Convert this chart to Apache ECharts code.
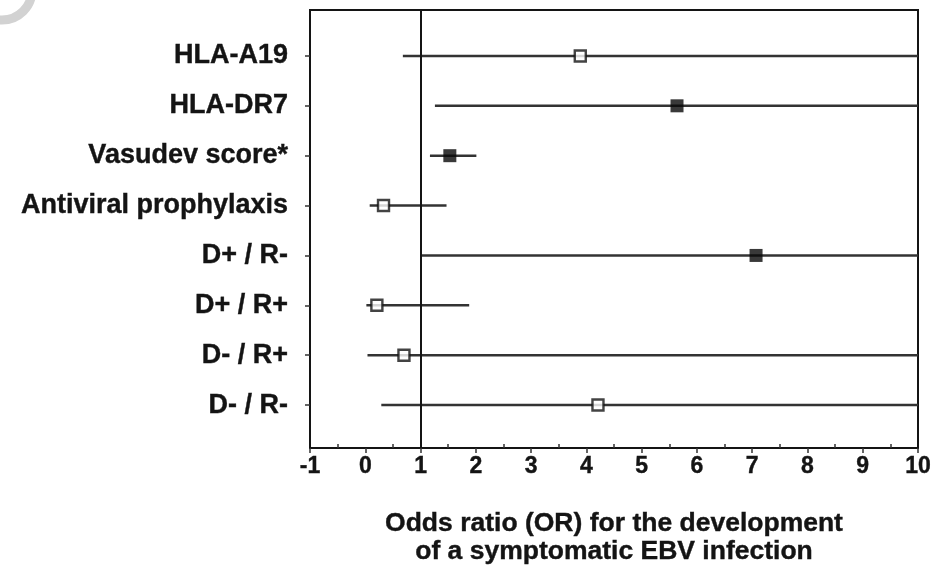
<!DOCTYPE html>
<html>
<head>
<meta charset="utf-8">
<script src="https://cdn.jsdelivr.net/npm/echarts@6/dist/echarts.min.js"></script>
<style>
  html, body { margin: 0; padding: 0; background: #fff; }
  #chart { width: 945px; height: 577px; }
</style>
</head>
<body>
<div id="chart"></div>
<script>
// Risk factors for symptomatic EBV infection: odds ratios with confidence intervals
const categories = ['HLA-A19', 'HLA-DR7', 'Vasudev score*', 'Antiviral prophylaxis',
                    'D+ / R-', 'D+ / R+', 'D- / R+', 'D- / R-'];
const oddsRatio = [3.89, 5.64, 1.53, 0.33, 7.07, 0.21, 0.70, 4.21];
const ciLower   = [0.68, 1.26, 1.17, 0.08, 1.00, 0.02, 0.04, 0.29];
// upper bounds that run past the end of the axis are cut at 10
const ciUpper   = [10, 10, 2.01, 1.47, 10, 1.88, 10, 10];
const significant = [false, true, true, false, true, false, false, false];
const xMin = -1, xMax = 10, xStep = 1;
const referenceOR = 1;
const axisTitle = 'Odds ratio (OR) for the development\nof a symptomatic EBV infection';

const FONT = '"Liberation Sans", Arial, Helvetica, sans-serif';
const INK = '#141414';
const LINE = '#333333';

const chart = echarts.init(document.getElementById('chart'), null, { renderer: 'canvas' });

const ciData = categories.map((c, i) => [ciLower[i], ciUpper[i], i]);
const filledPts = [], openPts = [];
categories.forEach((c, i) => {
  (significant[i] ? filledPts : openPts).push([oddsRatio[i], i]);
});

const boldText = { color: INK, fontFamily: FONT, fontWeight: 'bold',
                   textBorderColor: INK, textBorderWidth: 0.4 };

const option = {
  animation: false,
  backgroundColor: '#fff',
  graphic: [{
    type: 'arc',
    shape: { cx: 2, cy: -10, r: 30, startAngle: 0, endAngle: Math.PI * 0.9 },
    style: { stroke: '#d2d2d2', lineWidth: 9, fill: null },
    silent: true
  }],
  grid: [
    // outer frame with the value axis
    { left: 310, top: 10, width: 608, height: 438, show: true,
      borderColor: INK, borderWidth: 2, backgroundColor: 'transparent' },
    // rows for the factors
    { left: 310, top: 31, width: 608, height: 399 }
  ],
  xAxis: [
    { gridIndex: 0, type: 'value', min: xMin, max: xMax, interval: xStep,
      axisLine: { show: true, onZero: false, lineStyle: { color: INK, width: 2 } },
      axisTick: { show: true, inside: false, length: 5, lineStyle: { color: LINE, width: 1.5 } },
      axisLabel: Object.assign({ fontSize: 23, margin: 7 }, boldText),
      splitLine: { show: false },
      name: axisTitle, nameLocation: 'middle', nameGap: 62,
      nameTextStyle: Object.assign({ fontSize: 26.5, lineHeight: 28 }, boldText)
    },
    // half-step ticks pointing into the plot
    { gridIndex: 0, type: 'value', min: xMin, max: xMax, interval: xStep, position: 'bottom',
      axisLine: { show: false, onZero: false },
      axisTick: { show: false, inside: true },
      minorTick: { show: true, splitNumber: 2, length: 4, lineStyle: { color: LINE, width: 1.5 } },
      axisLabel: { show: false }, splitLine: { show: false }
    },
    { gridIndex: 1, type: 'value', min: xMin, max: xMax, show: false }
  ],
  yAxis: [
    { gridIndex: 0, type: 'value', min: 0, max: 1,
      axisLine: { show: true, onZero: false, lineStyle: { color: INK, width: 2 } },
      axisTick: { show: false }, axisLabel: { show: false }, splitLine: { show: false } },
    { gridIndex: 1, type: 'category', inverse: true, data: categories,
      axisLine: { show: false, onZero: false },
      axisTick: { show: true, alignWithLabel: true, length: 5, lineStyle: { color: LINE, width: 1.5 } },
      axisLabel: Object.assign({ fontSize: 27, margin: 22 }, boldText),
      splitLine: { show: false } }
  ],
  series: [
    { // reference line at OR = 1
      type: 'scatter', xAxisIndex: 0, yAxisIndex: 0, data: [], silent: true,
      markLine: { symbol: 'none', silent: true, label: { show: false },
        lineStyle: { color: INK, width: 2, type: 'solid' },
        data: [{ xAxis: referenceOR }] }
    },
    { // confidence intervals
      type: 'custom', xAxisIndex: 2, yAxisIndex: 1, data: ciData, silent: true,
      renderItem: function (params, api) {
        const a = api.coord([api.value(0), api.value(2)]);
        const b = api.coord([api.value(1), api.value(2)]);
        return { type: 'line', shape: { x1: a[0], y1: a[1], x2: b[0], y2: b[1] },
                 style: { stroke: LINE, lineWidth: 2.4 } };
      }
    },
    { // non-significant estimates
      type: 'scatter', xAxisIndex: 2, yAxisIndex: 1, data: openPts, symbol: 'rect', symbolSize: 11,
      itemStyle: { color: '#fff', borderColor: INK, borderWidth: 2.4 }, z: 5
    },
    { // significant estimates
      type: 'scatter', xAxisIndex: 2, yAxisIndex: 1, data: filledPts, symbol: 'rect', symbolSize: 13,
      itemStyle: { color: '#080808' }, z: 5
    }
  ]
};

chart.setOption(option);
</script>
</body>
</html>
